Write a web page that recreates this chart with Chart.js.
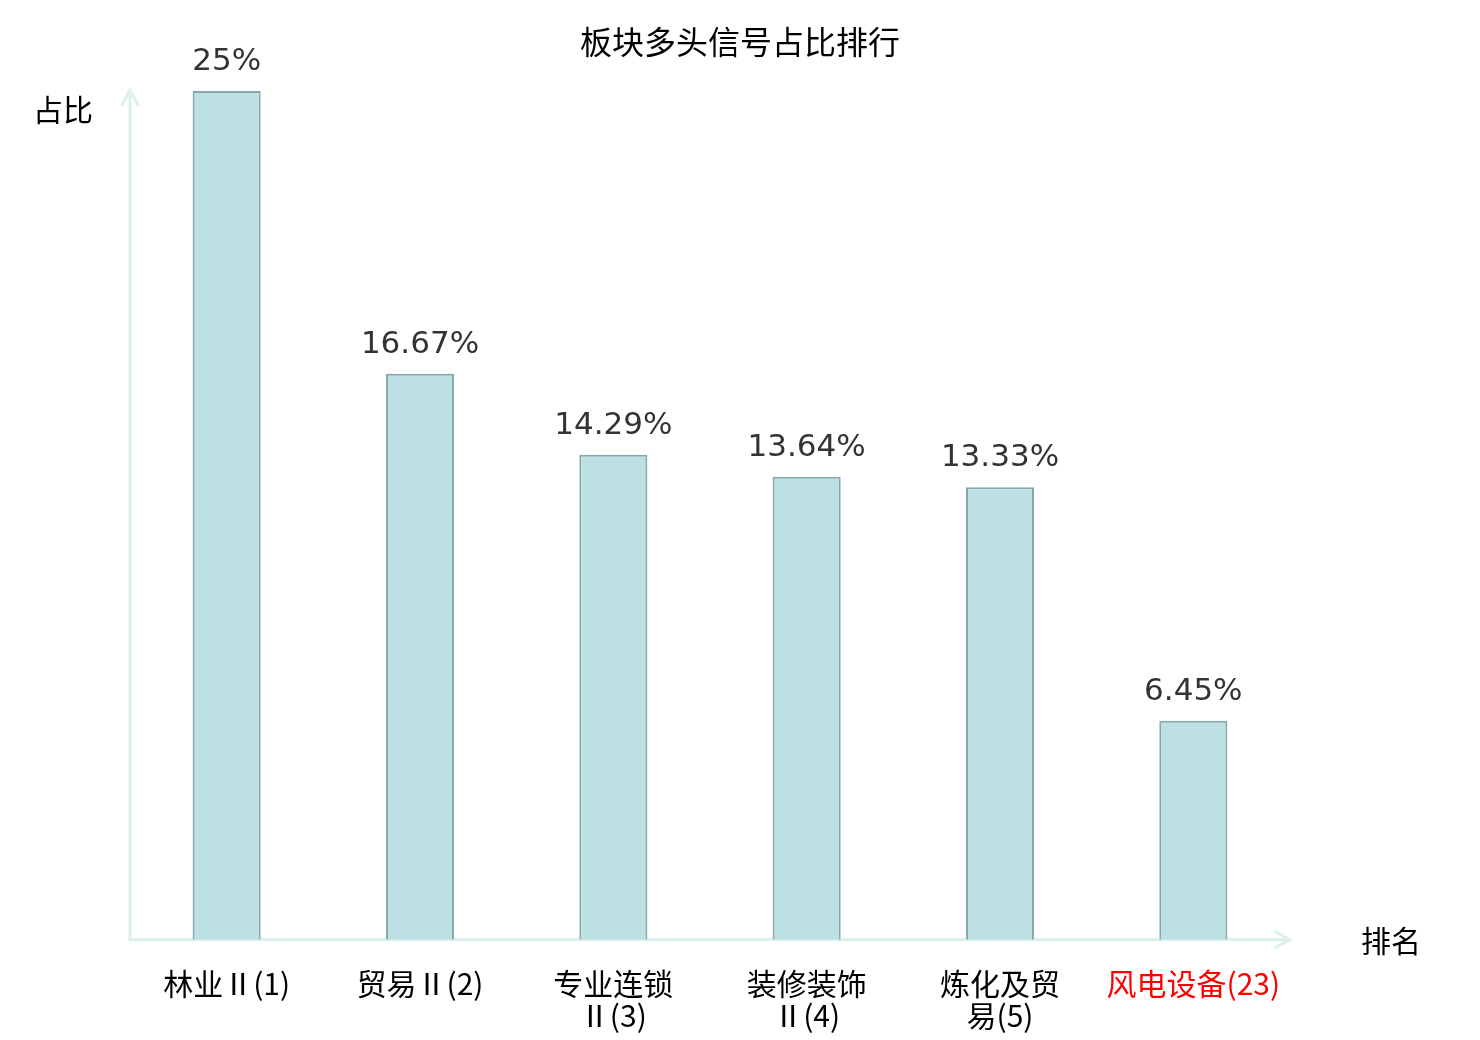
<!DOCTYPE html>
<html>
<head>
<meta charset="utf-8">
<script src="https://cdn.jsdelivr.net/npm/chart.js@4"></script>
<style>
html,body{margin:0;padding:0;background:#fff;}
#wrap{width:1480px;height:1040px;position:relative;}
</style>
</head>
<body>
<div id="wrap"><canvas id="c" width="1480" height="1040"></canvas></div>
<script>
const chartTitle = '板块多头信号占比排行';
const yAxisTitle = '占比';
const xAxisTitle = '排名';
const categories = [
  ['林业Ⅱ(1)'],
  ['贸易Ⅱ(2)'],
  ['专业连锁', 'Ⅱ(3)'],
  ['装修装饰', 'Ⅱ(4)'],
  ['炼化及贸', '易(5)'],
  ['风电设备(23)']
];
const values = [25, 16.67, 14.29, 13.64, 13.33, 6.45];
const valueLabels = ['25%', '16.67%', '14.29%', '13.64%', '13.33%', '6.45%'];
const highlightIndex = 5;

const axisColor = '#dcf1ee';

const decor = {
  id: 'decor',
  beforeDatasetsDraw(chart) {
    const ctx = chart.ctx;
    const a = chart.chartArea;
    ctx.save();
    ctx.strokeStyle = axisColor;
    ctx.lineWidth = 3;
    ctx.lineCap = 'round';
    ctx.lineJoin = 'round';
    // y axis
    ctx.beginPath();
    ctx.moveTo(a.left, a.bottom);
    ctx.lineTo(a.left, a.top - 1);
    ctx.stroke();
    ctx.beginPath();
    ctx.moveTo(a.left - 8, a.top + 14);
    ctx.lineTo(a.left, a.top - 1);
    ctx.lineTo(a.left + 8, a.top + 14);
    ctx.stroke();
    // x axis
    ctx.beginPath();
    ctx.moveTo(a.left, a.bottom);
    ctx.lineTo(a.right, a.bottom);
    ctx.stroke();
    ctx.beginPath();
    ctx.moveTo(a.right - 15, a.bottom - 8);
    ctx.lineTo(a.right, a.bottom);
    ctx.lineTo(a.right - 15, a.bottom + 8);
    ctx.stroke();
    ctx.restore();
  },
  afterDatasetsDraw(chart) {
    const ctx = chart.ctx;
    const meta = chart.getDatasetMeta(0);
    ctx.save();
    ctx.fillStyle = '#333333';
    ctx.font = '31px "DejaVu Sans"';
    ctx.textAlign = 'center';
    ctx.textBaseline = 'middle';
    meta.data.forEach((bar, i) => {
      ctx.fillText(valueLabels[i], bar.x, bar.y - 29);
    });
    ctx.fillStyle = '#000';
    ctx.font = '32px "Noto Sans CJK SC"';
    ctx.fillText(chartTitle, 740, 42);
    ctx.font = '30px "Noto Sans CJK SC"';
    ctx.fillText(yAxisTitle, 63, 110);
    ctx.fillText(xAxisTitle, 1391, 941);
    ctx.restore();
  }
};

new Chart(document.getElementById('c'), {
  type: 'bar',
  data: {
    labels: categories,
    datasets: [{
      data: values,
      backgroundColor: '#bce0e3',
      borderColor: '#87a8aa',
      borderWidth: 2,
      barPercentage: 0.352,
      categoryPercentage: 1.0
    }]
  },
  options: {
    responsive: false,
    animation: false,
    devicePixelRatio: 1,
    layout: { padding: { left: 130, right: 190, top: 91, bottom: -20 } },
    plugins: {
      legend: { display: false },
      title: { display: false },
      tooltip: { enabled: false }
    },
    scales: {
      y: {
        display: false,
        min: 0,
        max: 25
      },
      x: {
        grid: { display: false, drawTicks: false },
        border: { display: false },
        ticks: {
          maxRotation: 0,
          minRotation: 0,
          autoSkip: false,
          padding: 28,
          font: { family: '"Noto Sans CJK SC"', size: 30, lineHeight: 1.07 },
          color: (ctx) => ctx.index === highlightIndex ? '#ff0000' : '#000000'
        }
      }
    }
  },
  plugins: [decor]
});
</script>
</body>
</html>
